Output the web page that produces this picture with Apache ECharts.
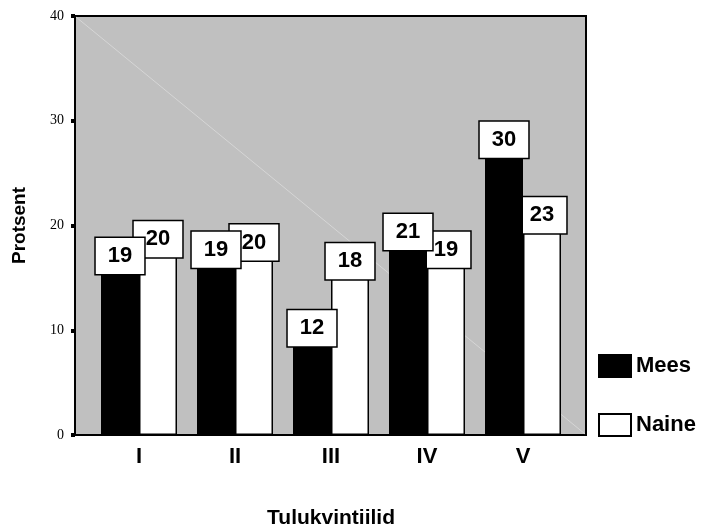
<!DOCTYPE html>
<html>
<head>
<meta charset="utf-8">
<script src="https://cdn.jsdelivr.net/npm/echarts@6/dist/echarts.min.js"></script>
<style>
  html, body { margin: 0; padding: 0; background: #fff; }
  #chart { width: 701px; height: 525px; }
</style>
</head>
<body>
<div id="chart"></div>
<script>
// kvintiilid ja protsendid (loetud pildilt)
var categories = ['I', 'II', 'III', 'IV', 'V'];
var mees = [18.8, 19.4, 11.9, 21.1, 29.9];
var naine = [20.4, 20.1, 18.3, 19.4, 22.7];
var yTicks = [0, 10, 20, 30, 40];

var chart = echarts.init(document.getElementById('chart'));

var boxLabel = {
  show: true,
  position: 'insideTop',
  distance: 0,
  formatter: function (p) { return Math.round(p.value); },
  fontFamily: 'Liberation Sans, Arial, sans-serif',
  fontWeight: 'bold',
  fontSize: 22,
  lineHeight: 22,
  color: '#000',
  backgroundColor: '#fff',
  borderColor: '#000',
  borderWidth: 1.5,
  padding: [7, 12]
};

chart.setOption({
  animation: false,
  backgroundColor: '#fff',
  grid: [
    // raam
    { left: 75, top: 16, width: 511, height: 419, show: true, outerBoundsMode: 'none',
      backgroundColor: '#c0c0c0', borderColor: '#000', borderWidth: 2 },
    // tulbad
    { left: 91, top: 16, width: 480, height: 419, outerBoundsMode: 'none' }
  ],
  graphic: [{
    type: 'line', z: 1, silent: true,
    shape: { x1: 76, y1: 17, x2: 585, y2: 434 },
    style: { stroke: '#d6d6d6', lineWidth: 1 }
  }],
  xAxis: [
    { gridIndex: 0, type: 'value', show: false, min: 0, max: 1 },
    {
      gridIndex: 1,
      type: 'category',
      data: categories,
      axisLine: { show: false },
      axisTick: { show: false },
      axisLabel: {
        margin: 11, color: '#000', fontSize: 22, fontWeight: 'bold',
        fontFamily: 'Liberation Sans, Arial, sans-serif'
      },
      name: 'Tulukvintiilid',
      nameLocation: 'middle',
      nameGap: 73,
      nameTextStyle: {
        color: '#000', fontSize: 21, fontWeight: 'bold',
        fontFamily: 'Liberation Sans, Arial, sans-serif'
      }
    }
  ],
  yAxis: [
    {
      gridIndex: 0,
      type: 'value',
      min: yTicks[0],
      max: yTicks[yTicks.length - 1],
      interval: 10,
      axisLine: { show: true, lineStyle: { color: '#000', width: 2 } },
      axisTick: { show: true, length: 4, lineStyle: { color: '#000', width: 4 } },
      splitLine: { show: false },
      axisLabel: {
        margin: 11, color: '#000', fontSize: 14,
        fontFamily: 'Liberation Serif, Times New Roman, serif'
      },
      name: 'Protsent',
      nameLocation: 'middle',
      nameRotate: 90,
      nameGap: 46,
      nameTextStyle: {
        color: '#000', fontSize: 19, fontWeight: 'bold',
        fontFamily: 'Liberation Sans, Arial, sans-serif'
      }
    },
    { gridIndex: 1, type: 'value', min: 0, max: 40, show: false }
  ],
  legend: {
    orient: 'vertical',
    left: 593,
    top: 349,
    itemWidth: 32,
    itemHeight: 22,
    itemGap: 35,
    icon: 'rect',
    textStyle: {
      color: '#000', fontSize: 22, fontWeight: 'bold',
      fontFamily: 'Liberation Sans, Arial, sans-serif'
    },
    data: ['Mees', 'Naine']
  },
  series: [
    {
      name: 'Mees',
      type: 'bar',
      xAxisIndex: 1,
      yAxisIndex: 1,
      z: 3,
      barWidth: 38,
      barGap: '0%',
      itemStyle: { color: '#000', borderColor: '#000', borderWidth: 1 },
      label: boxLabel,
      data: mees
    },
    {
      name: 'Naine',
      type: 'bar',
      xAxisIndex: 1,
      yAxisIndex: 1,
      z: 2,
      barWidth: 38,
      barGap: '0%',
      itemStyle: { color: '#fff', borderColor: '#000', borderWidth: 1.5 },
      label: boxLabel,
      data: naine
    }
  ]
});
</script>
</body>
</html>
